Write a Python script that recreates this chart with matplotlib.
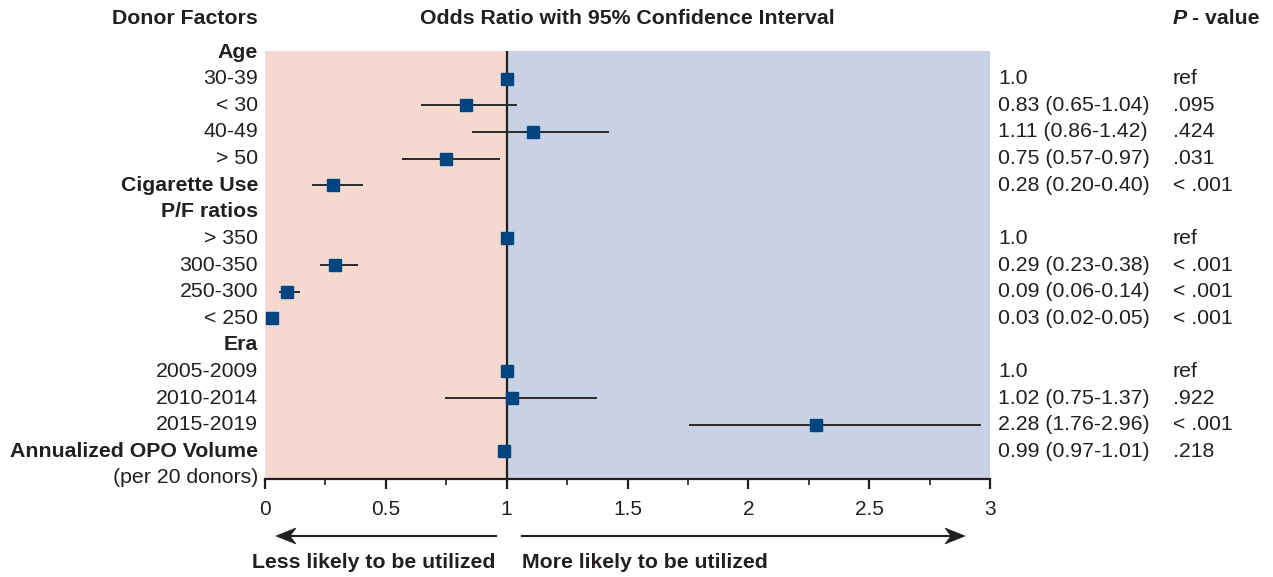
import matplotlib
matplotlib.use("Agg")
import matplotlib.pyplot as plt
from matplotlib.transforms import blended_transform_factory
from matplotlib.ticker import MultipleLocator
from matplotlib.patches import Polygon
from matplotlib.lines import Line2D

plt.rcParams['font.family'] = ['Liberation Sans', 'DejaVu Sans']

# Rows (top to bottom)
row_labels = ["Age", "30-39", "< 30", "40-49", "> 50", "Cigarette Use", "P/F ratios",
              "> 350", "300-350", "250-300", "< 250", "Era", "2005-2009", "2010-2014",
              "2015-2019", "Annualized OPO Volume", "(per 20 donors)"]
row_bold = [True, False, False, False, False, True, True, False, False, False, False,
            True, False, False, False, True, False]

# Estimates: row index, OR, lower, upper (None for reference)
est_rows = [1, 2, 3, 4, 5, 7, 8, 9, 10, 12, 13, 14, 15]
odds = [1.0, 0.83, 1.11, 0.75, 0.28, 1.0, 0.29, 0.09, 0.03, 1.0, 1.02, 2.28, 0.99]
lower = [None, 0.65, 0.86, 0.57, 0.20, None, 0.23, 0.06, 0.02, None, 0.75, 1.76, 0.97]
upper = [None, 1.04, 1.42, 0.97, 0.40, None, 0.38, 0.14, 0.05, None, 1.37, 2.96, 1.01]
or_text = ["1.0", "0.83 (0.65-1.04)", "1.11 (0.86-1.42)", "0.75 (0.57-0.97)",
           "0.28 (0.20-0.40)", "1.0", "0.29 (0.23-0.38)", "0.09 (0.06-0.14)",
           "0.03 (0.02-0.05)", "1.0", "1.02 (0.75-1.37)", "2.28 (1.76-2.96)",
           "0.99 (0.97-1.01)"]
p_text = ["ref", ".095", ".424", ".031", "< .001", "ref", "< .001", "< .001", "< .001",
          "ref", ".922", "< .001", ".218"]
xtick_vals = [0, 0.5, 1, 1.5, 2, 2.5, 3]
xtick_labels = ["0", "0.5", "1", "1.5", "2", "2.5", "3"]

TXT = '#231F20'
W, H = 1273, 577
fig = plt.figure(figsize=(W / 100, H / 100), dpi=100)
L, R, T, B = 265, 990, 51, 479
ax = fig.add_axes([L / W, 1 - B / H, (R - L) / W, (B - T) / H])

ax.set_xlim(0, 3)
ax.set_ylim(16.04, -0.04)
ax.axvspan(0, 1, color='#F5D8D0', zorder=0, lw=0)
ax.axvspan(1, 3, color='#C9D2E4', zorder=0, lw=0)
ax.axvline(1, color=TXT, lw=1.6, zorder=2)

for r, o, lo, hi in zip(est_rows, odds, lower, upper):
    if lo is not None:
        ax.plot([lo, hi], [r, r], color='#2a2a2a', lw=1.4, zorder=3)
    ax.plot([o], [r], marker='s', ms=8.8, color='#004580', mec='#004580', zorder=4, ls='none')

for s in ['top', 'right', 'left']:
    ax.spines[s].set_visible(False)
ax.spines['bottom'].set_linewidth(1.6)
ax.spines['bottom'].set_color(TXT)
ax.set_yticks([])
ax.xaxis.set_minor_locator(MultipleLocator(0.25))
ax.set_xticks(xtick_vals)
ax.set_xticklabels(xtick_labels)
ax.tick_params(axis='x', which='major', length=7, width=1.6, color=TXT,
               labelsize=15, labelcolor=TXT, pad=8)
ax.tick_params(axis='x', which='minor', length=4, width=1.2, color=TXT)

tr = blended_transform_factory(ax.transAxes, ax.transData)
fs = 15.3
for i, (lab, b) in enumerate(zip(row_labels, row_bold)):
    ax.text(-0.0097, i, lab, transform=tr, ha='right', va='center', fontsize=fs,
            fontweight='bold' if b else 'normal', color=TXT, clip_on=False)

for r, t, p in zip(est_rows, or_text, p_text):
    ax.text(1.011, r, t, transform=tr, ha='left', va='center', fontsize=fs,
            color=TXT, clip_on=False)
    ax.text(1.252, r, p, transform=tr, ha='left', va='center', fontsize=fs,
            color=TXT, clip_on=False)

# headers
hy = 1 - 19 / H
fig.text(258 / W, hy, "Donor Factors", ha='right', va='center', fontsize=fs,
         fontweight='bold', color=TXT)
fig.text((L + R) / 2 / W, hy, "Odds Ratio with 95% Confidence Interval", ha='center',
         va='center', fontsize=fs, fontweight='bold', color=TXT)
tv = fig.text(1259 / W, hy, "- value", ha='right', va='center', fontsize=fs,
              fontweight='bold', color=TXT)
fig.canvas.draw()
x0 = tv.get_window_extent().x0
fig.text((x0 - 5) / W, hy, "P", ha='right', va='center', fontsize=fs, color=TXT,
         fontweight='bold', fontstyle='italic')


# arrows (decoration, figure pixel coordinates)
def P(x, y):
    return (x / W, 1 - y / H)


def arrow(x_start, x_tip, y, direction):
    d = direction  # -1 points left, +1 points right
    back = x_tip - d * 20
    notch = x_tip - d * 14
    xs, ys = zip(P(x_start, y), P(notch, y))
    fig.add_artist(Line2D(xs, ys, color=TXT, lw=1.5, transform=fig.transFigure))
    fig.add_artist(Polygon([P(x_tip, y), P(back, y - 8), P(notch, y), P(back, y + 8)],
                           closed=True, facecolor=TXT, edgecolor=TXT, lw=0.5,
                           transform=fig.transFigure))


arrow(496, 276, 536, -1)
arrow(522, 965, 536, 1)

ty = 1 - 563 / H
fig.text(495 / W, ty, "Less likely to be utilized", ha='right', va='center', fontsize=fs,
         fontweight='bold', color=TXT)
fig.text(522 / W, ty, "More likely to be utilized", ha='left', va='center', fontsize=fs,
         fontweight='bold', color=TXT)

fig.savefig("out.png", dpi=100, facecolor='white')
